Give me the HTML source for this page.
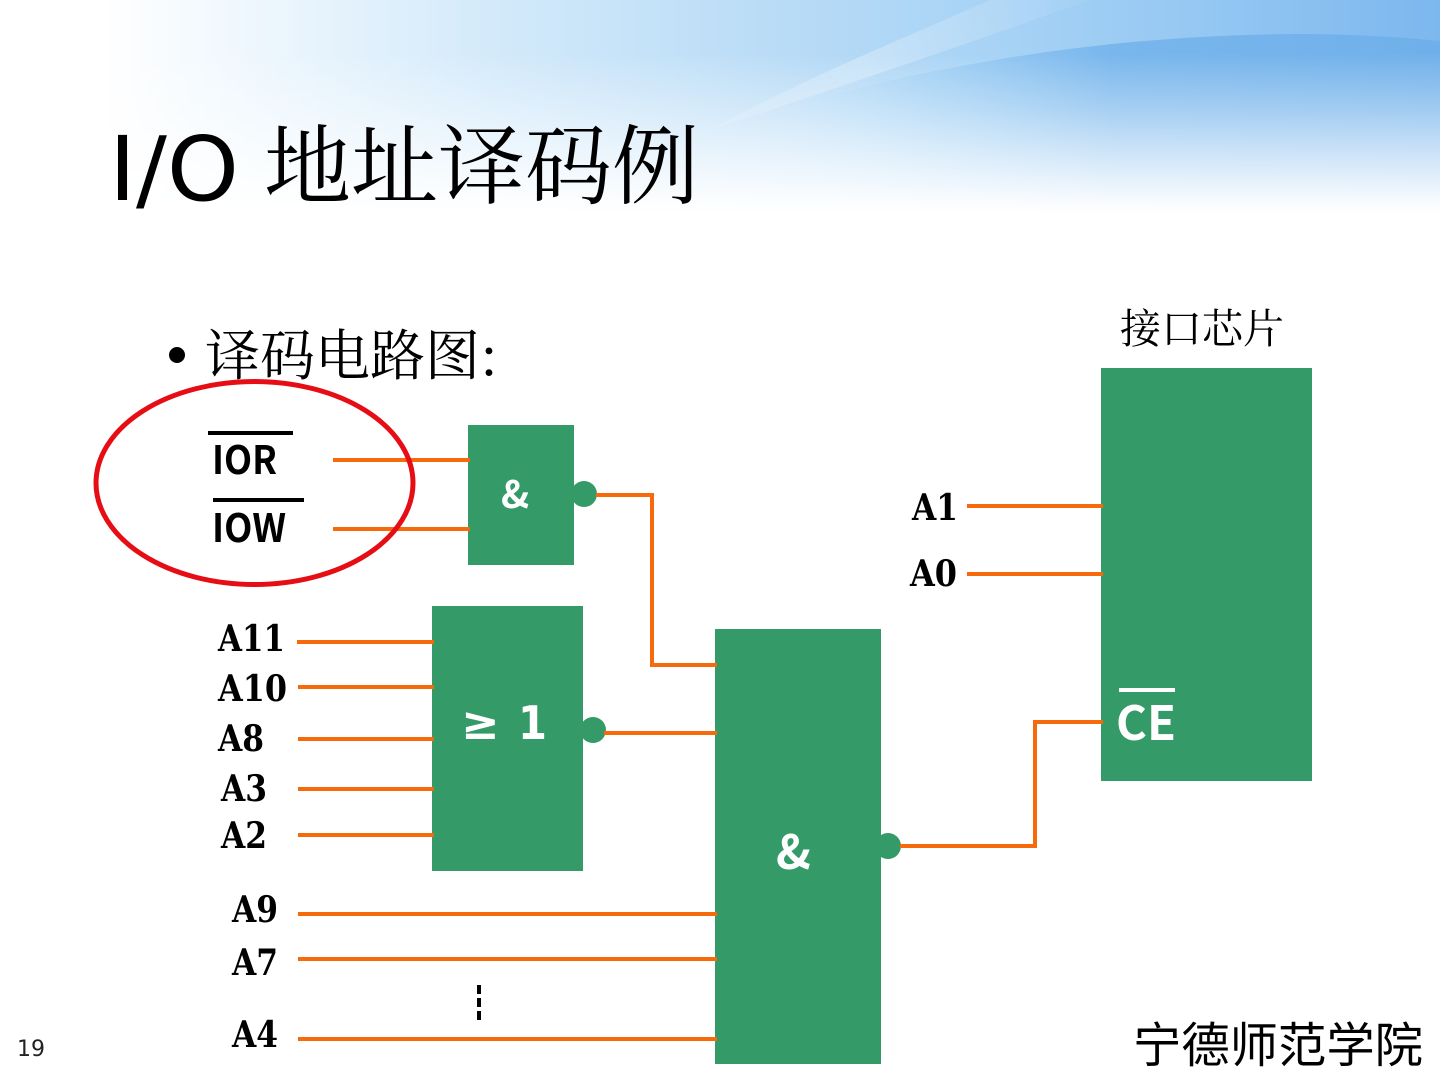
<!DOCTYPE html>
<html><head><meta charset="utf-8"><style>
html,body{margin:0;padding:0;background:#fff;width:1440px;height:1080px;overflow:hidden}
svg{display:block}
.s{font-family:"Noto Serif CJK SC",serif}
.h{font-family:"WenQuanYi Zen Hei","Noto Sans CJK SC",sans-serif}
.l{font-family:"DejaVu Serif",serif;font-weight:bold;font-size:36px;fill:#000}
.n{font-family:"Noto Sans CJK SC",sans-serif;font-weight:700}
.w{stroke:#f76a0c;stroke-width:4;fill:none}
</style></head><body>
<svg width="1440" height="1080" viewBox="0 0 1440 1080" xmlns="http://www.w3.org/2000/svg">
<defs>
<linearGradient id="hz" x1="0" x2="1" y1="0" y2="0">
<stop offset="0" stop-color="#fff"/>
<stop offset=".07" stop-color="#fff"/>
<stop offset=".2" stop-color="#eaf5fd"/>
<stop offset=".35" stop-color="#d2e9fa"/>
<stop offset=".55" stop-color="#b8dbf6"/>
<stop offset=".7" stop-color="#a6d2f5"/>
<stop offset=".84" stop-color="#94c7f2"/>
<stop offset="1" stop-color="#7cb7ee"/>
</linearGradient>
<linearGradient id="hz2" gradientUnits="userSpaceOnUse" x1="710" x2="1440" y1="0" y2="0">
<stop offset="0" stop-color="#c4e2f8" stop-opacity="0"/>
<stop offset=".25" stop-color="#a4d2f5" stop-opacity=".85"/>
<stop offset=".55" stop-color="#78b6ec"/>
<stop offset="1" stop-color="#70b0ea"/>
</linearGradient>
<linearGradient id="hl" gradientUnits="userSpaceOnUse" x1="710" y1="130" x2="1100" y2="0">
<stop offset="0" stop-color="#fff" stop-opacity=".1"/>
<stop offset=".4" stop-color="#fff" stop-opacity=".28"/>
<stop offset="1" stop-color="#fff" stop-opacity=".03"/>
</linearGradient>
<linearGradient id="fade" gradientUnits="userSpaceOnUse" x1="0" x2="0" y1="0" y2="215">
<stop offset="0" stop-color="#fff"/>
<stop offset=".25" stop-color="#fff"/>
<stop offset=".5" stop-color="#ababab"/>
<stop offset=".72" stop-color="#595959"/>
<stop offset=".94" stop-color="#0d0d0d"/>
<stop offset="1" stop-color="#000"/>
</linearGradient>
<mask id="m"><rect width="1440" height="215" fill="url(#fade)"/></mask>
</defs>
<g mask="url(#m)">
<rect width="1440" height="215" fill="url(#hz)"/>
<path d="M710 130C850 85 1050 35 1300 34C1350 34 1400 37 1440 41V215H710Z" fill="url(#hz2)"/>
<path d="M710 130C800 80 900 40 990 0H1090C950 50 830 90 710 130Z" fill="url(#hl)"/>
</g>
<text x="109" y="200" font-size="89" font-family="'DejaVu Sans',sans-serif" fill="#000" textLength="130" lengthAdjust="spacingAndGlyphs">I/O</text>
<text class="s" x="264" y="197" font-size="87" fill="#000">地址译码例</text>
<circle cx="177" cy="355" r="8" fill="#000"/>
<text class="s" x="205" y="375" font-size="55" fill="#000">译码电路图:</text>
<text class="s" x="1120" y="343" font-size="41" fill="#000">接口芯片</text>
<text class="h" x="1133" y="1062" font-size="48" fill="#000" textLength="290" lengthAdjust="spacingAndGlyphs">宁德师范学院</text>
<text x="17" y="1056" font-size="22" font-family="'DejaVu Sans',sans-serif" fill="#222">19</text>

<rect x="468" y="425" width="106" height="140" fill="#349a67"/>
<rect x="432" y="606" width="151" height="265" fill="#349a67"/>
<rect x="715" y="629" width="166" height="435" fill="#349a67"/>
<rect x="1101" y="368" width="211" height="413" fill="#349a67"/>
<circle cx="584" cy="494" r="13" fill="#349a67"/>
<circle cx="593" cy="730" r="13" fill="#349a67"/>
<circle cx="888" cy="846" r="13" fill="#349a67"/>

<path class="w" d="M333 460H470M333 529H470M596 495H652V665H717M604 733H717"/>
<path class="w" d="M297 642H434M298 687H434M298 739H434M298 789H434M298 835H434"/>
<path class="w" d="M298 914H717M298 959H717M298 1039H717"/>
<path class="w" d="M967 506H1103M967 574H1103M900 846H1035V722H1103"/>

<ellipse cx="254.500" cy="483" rx="158.500" ry="101.500" fill="none" stroke="#e60d14" stroke-width="5"/>

<rect x="208" y="431" width="85" height="4" fill="#000"/>
<rect x="213" y="498" width="91" height="4" fill="#000"/>
<text class="n" x="212" y="474" font-size="39" fill="#000" textLength="65" lengthAdjust="spacingAndGlyphs">IOR</text>
<text class="n" x="212" y="542" font-size="39" fill="#000" textLength="74" lengthAdjust="spacingAndGlyphs">IOW</text>
<text class="l" x="218" y="651" textLength="67" lengthAdjust="spacingAndGlyphs">A11</text>
<text class="l" x="218" y="701" textLength="69" lengthAdjust="spacingAndGlyphs">A10</text>
<text class="l" x="218" y="751" textLength="46" lengthAdjust="spacingAndGlyphs">A8</text>
<text class="l" x="221" y="801" textLength="46" lengthAdjust="spacingAndGlyphs">A3</text>
<text class="l" x="221" y="848" textLength="46" lengthAdjust="spacingAndGlyphs">A2</text>
<text class="l" x="232" y="922" textLength="46" lengthAdjust="spacingAndGlyphs">A9</text>
<text class="l" x="232" y="975" textLength="46" lengthAdjust="spacingAndGlyphs">A7</text>
<text class="l" x="232" y="1047" textLength="46" lengthAdjust="spacingAndGlyphs">A4</text>
<text class="l" x="912" y="520" textLength="46" lengthAdjust="spacingAndGlyphs">A1</text>
<text class="l" x="910" y="586" textLength="47" lengthAdjust="spacingAndGlyphs">A0</text>
<path d="M479 985V1021" stroke="#000" stroke-width="4" stroke-dasharray="9 4" fill="none"/>

<text class="n" x="501" y="508" font-size="38" fill="#fff">&amp;</text>
<text x="461" y="739" font-size="46" font-weight="bold" font-family="'DejaVu Sans',sans-serif" fill="#fff">≥</text>
<text x="518" y="739" font-size="46" font-family="'DejaVu Sans',sans-serif" font-weight="bold" fill="#fff" textLength="29" lengthAdjust="spacingAndGlyphs">1</text>
<text class="n" x="776" y="869" font-size="47" fill="#fff">&amp;</text>
<rect x="1119" y="688" width="56" height="4" fill="#fff"/>
<text class="n" x="1116" y="740" font-size="47" fill="#fff" textLength="60" lengthAdjust="spacingAndGlyphs">CE</text>
</svg>
</body></html>
